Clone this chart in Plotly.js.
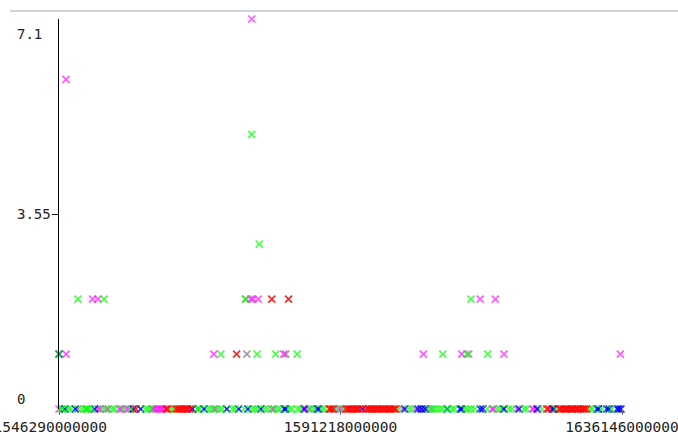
<!DOCTYPE html>
<html>
<head>
<meta charset="utf-8">
<script src="https://cdn.plot.ly/plotly-3.0.1.min.js"></script>
<style>
html,body{margin:0;padding:0;background:#fff;}
#chart{width:678px;height:443px;}
</style>
</head>
<body>
<div id="chart"></div>
<script>
// Time axis: epoch milliseconds; points given as days since the first tick
const startMs = 1546290000000;
const dayMs = 86400000;
const xTickVals = [1546290000000, 1591218000000, 1636146000000];
const xTickLabels = ["1546290000000\u00a0\u00a0", "1591218000000", "1636146000000"];
const yTickVals = [0, 3.55, 7.1];
const yTickLabels = ["0", "3.55", "7.1"];

// Points on the zero line (day offsets)
const greenZeroDays = [4,7,17,22,42,48,52,55,61,81,98,103,118,133,159,164,170,207,212,255,260,275,281,296,301,320,325,342,356,362,368,380,386,403,408,425,430,440,445,465,471,486,491,512,525,628,646,652,685,693,698,704,709,718,726,731,750,755,761,768,791,809,815,831,837,859,864,892,918,981,986,1003,1021];
const blueZeroDays = [11,30,66,137,151,246,268,310,332,349,373,416,419,453,477,480,561,639,663,669,676,717,741,744,778,783,822,850,883,911,914,994,997,1012,1016,1031,1034,1038];
const grayZeroDays = [35,50,87,91,257,286,290,393,397,462,508,672,680,689,820];
const magentaZeroDays = [0,72,76,111,115,124,129,172,175,179,183,187,190,194,247,451,456,517,521,635,659,800,803,846,874,877,885];
const redZeroDays = [142,198,201,216,220,223,227,231,235,238,242,499,502,506,530,534,537,541,545,549,552,556,567,571,574,578,582,586,589,593,597,600,604,608,611,615,619,622,901,905,924,927,931,935,938,942,946,949,953,957,960,964,968,971,975];

// Points above zero (day offsets and values)
const greenDays = [0,35,83,299,366,400,440,345,356,370,761,709,753,792];
const greenVals = [1,2,2,1,1,1,1,2,5,3,2,1,1,1];
const blueDays = [0];
const blueVals = [1];
const magentaDays = [13,13,62,72,286,415,354,358,368,356,778,806,673,744,822,1037];
const magentaVals = [6,1,2,2,1,1,2,2,2,7.1,2,2,1,1,1,1];
const grayDays = [347,419,345,757];
const grayVals = [1,1,2,1];
const redDays = [328,393,424];
const redVals = [1,2,2];

const series = [
  {name:"gray", zero:grayZeroDays, days:grayDays, vals:grayVals, color:"rgba(128,128,128,0.75)"},
  {name:"magenta", zero:magentaZeroDays, days:magentaDays, vals:magentaVals, color:"rgba(255,0,255,0.65)"},
  {name:"blue", zero:blueZeroDays, days:blueDays, vals:blueVals, color:"rgba(0,0,255,0.9)"},
  {name:"green", zero:greenZeroDays, days:greenDays, vals:greenVals, color:"rgba(0,255,0,0.7)"},
  {name:"red", zero:redZeroDays, days:redDays, vals:redVals, color:"rgba(255,0,0,0.85)"}
];

const toMs = d => startMs + d * dayMs;
const traces = series.map(s => ({
  type: "scatter",
  mode: "markers",
  name: s.name,
  x: s.zero.map(toMs).concat(s.days.map(toMs)),
  y: s.zero.map(() => 0).concat(s.vals),
  cliponaxis: false,
  marker: {symbol: "x-thin-open", size: 7, color: s.color, line: {color: s.color, width: 1.7}},
  hoverinfo: "x+y"
}));

const annots = yTickVals.map((v, i) => ({
  xref: "paper", yref: "y", x: -0.079, y: v,
  xanchor: "left",
  yanchor: i === 0 ? "bottom" : (i === 2 ? "top" : "middle"),
  yshift: i === 2 ? -5 : 0,
  text: yTickLabels[i], showarrow: false,
  font: {family: "DejaVu Sans Mono", size: 14, color: "#222"}
}));

const layout = {
  width: 678, height: 443,
  margin: {l: 59, r: 56, t: 19, b: 34, pad: 0},
  paper_bgcolor: "#ffffff", plot_bgcolor: "#ffffff",
  showlegend: false,
  font: {family: "DejaVu Sans Mono", size: 14, color: "#222"},
  xaxis: {
    range: [xTickVals[0], xTickVals[2]],
    tickmode: "array", tickvals: xTickVals, ticktext: xTickLabels,
    ticks: "outside", ticklen: 5, tickcolor: "#777", tickwidth: 1,
    ticklabeloverflow: "allow",
    showgrid: false, zeroline: false, showline: false,
    tickfont: {family: "DejaVu Sans Mono", size: 14.5, color: "#222"}
  },
  yaxis: {
    range: [0, 7.1],
    tickmode: "array", tickvals: [3.55], showticklabels: false,
    ticks: "outside", ticklen: 6, tickcolor: "#000", tickwidth: 1,
    showgrid: false, zeroline: false,
    showline: true, linecolor: "#000", linewidth: 1.5
  },
  annotations: annots,
  shapes: [{
    type: "line", xref: "paper", yref: "paper",
    x0: -0.087, x1: 1.1, y0: 1.0205, y1: 1.0205,
    line: {color: "#d4d4dc", width: 2}
  }]
};

Plotly.newPlot("chart", traces, layout, {displayModeBar: false, staticPlot: true});
</script>
</body>
</html>
